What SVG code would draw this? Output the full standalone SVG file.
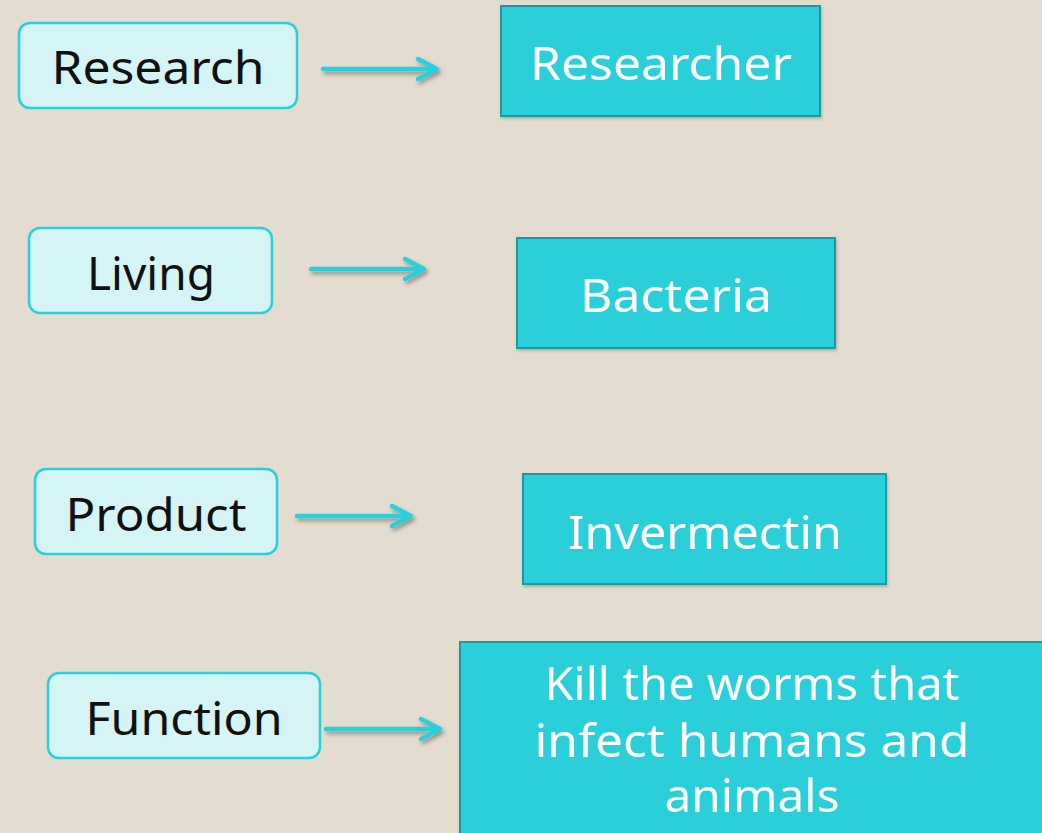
<svg xmlns="http://www.w3.org/2000/svg" width="1042" height="833" viewBox="0 0 1042 833">
<defs>
<style>
.src{fill:#D4F4F6;stroke:#2ACFD9;stroke-width:2.5}
.dst{fill:#29CFD9;stroke:#1E9AA0;stroke-width:2}
.t{font-family:"Noto Sans","DejaVu Sans",sans-serif;font-size:45px;text-anchor:middle}
.dk{fill:#111}
.wt{fill:#fff}
.ar{fill:none;stroke:#29CFD9;stroke-width:4.5;stroke-linecap:round;stroke-linejoin:round}
</style>
<filter id="sh" x="-20%" y="-50%" width="140%" height="200%">
<feDropShadow dx="2" dy="3" stdDeviation="2" flood-color="#000" flood-opacity="0.35"/>
</filter>
<filter id="bs" x="-5%" y="-5%" width="110%" height="115%">
<feDropShadow dx="1" dy="2" stdDeviation="1.5" flood-color="#000" flood-opacity="0.2"/>
</filter>
</defs>
<rect width="1042" height="833" fill="#E3DCD1"/>
<g id="connectors" filter="url(#sh)">
<path class="ar" d="M323 69H436M418 59L437 69L418 79"/>
<path class="ar" d="M311 269H423M405 259L424 269L405 279"/>
<path class="ar" d="M297 516H410M392 506L411 516L392 526"/>
<path class="ar" d="M326 729H439M421 719L440 729L421 739"/>
</g>
<g id="research"><rect class="src" x="19" y="23" width="278" height="85" rx="11"/><text class="t dk" x="158" y="84" textLength="213" lengthAdjust="spacingAndGlyphs">Research</text></g>
<g id="living"><rect class="src" x="29" y="228" width="243" height="85" rx="11"/><text class="t dk" x="151" y="290" textLength="128" lengthAdjust="spacingAndGlyphs">Living</text></g>
<g id="product"><rect class="src" x="35" y="469" width="242" height="85" rx="11"/><text class="t dk" x="156" y="531" textLength="181" lengthAdjust="spacingAndGlyphs">Product</text></g>
<g id="function"><rect class="src" x="48" y="673" width="272" height="85" rx="11"/><text class="t dk" x="184" y="735" textLength="197" lengthAdjust="spacingAndGlyphs">Function</text></g>
<g id="researcher" filter="url(#bs)"><rect class="dst" x="501" y="6" width="319" height="110"/><text class="t wt" x="661" y="80" textLength="262" lengthAdjust="spacingAndGlyphs">Researcher</text></g>
<g id="bacteria" filter="url(#bs)"><rect class="dst" x="517" y="238" width="318" height="110"/><text class="t wt" x="676" y="312" textLength="192" lengthAdjust="spacingAndGlyphs">Bacteria</text></g>
<g id="invermectin" filter="url(#bs)"><rect class="dst" x="523" y="474" width="363" height="110"/><text class="t wt" x="705" y="549" textLength="274" lengthAdjust="spacingAndGlyphs">Invermectin</text></g>
<g id="kill" filter="url(#bs)"><rect class="dst" x="460" y="642" width="590" height="200"/>
<text class="t wt" x="752" y="700" textLength="415" lengthAdjust="spacingAndGlyphs">Kill the worms that</text>
<text class="t wt" x="752" y="757" textLength="435" lengthAdjust="spacingAndGlyphs">infect humans and</text>
<text class="t wt" x="752" y="812" textLength="175" lengthAdjust="spacingAndGlyphs">animals</text></g>
</svg>
